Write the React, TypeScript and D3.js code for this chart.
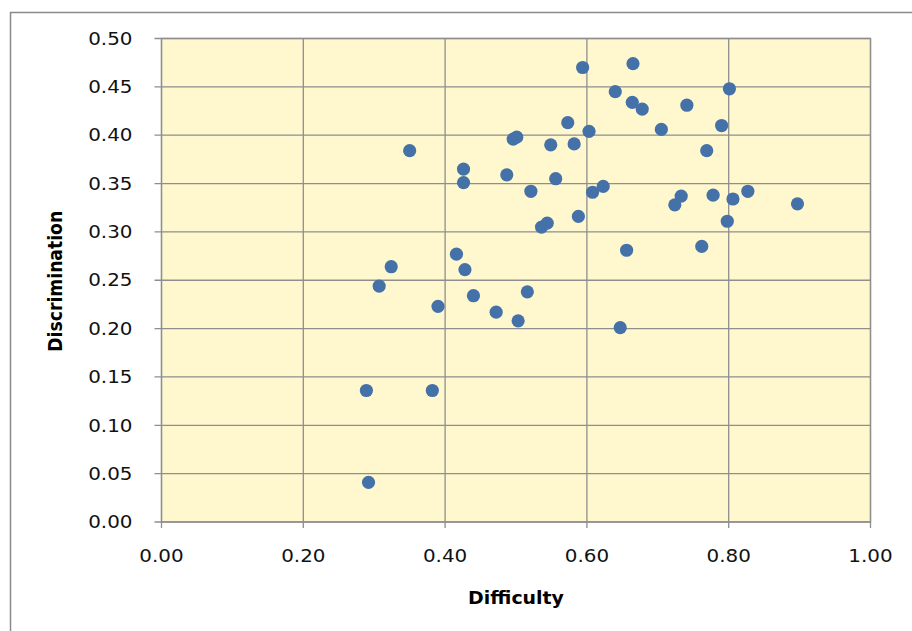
import React from "react";
import * as d3 from "d3";

const difficulty: number[] = [
  0.594, 0.665, 0.640, 0.801, 0.664, 0.678, 0.741, 0.573, 0.603, 0.705, 0.790,
  0.496, 0.501, 0.549, 0.582, 0.769, 0.426, 0.426, 0.487, 0.556, 0.521, 0.608,
  0.623, 0.724, 0.733, 0.778, 0.806, 0.827, 0.897, 0.798, 0.588, 0.536, 0.544,
  0.350, 0.324, 0.307, 0.416, 0.428, 0.390, 0.440, 0.472, 0.503, 0.516, 0.656,
  0.647, 0.289, 0.382, 0.292, 0.762,
];
const discrimination: number[] = [
  0.470, 0.474, 0.445, 0.448, 0.434, 0.427, 0.431, 0.413, 0.404, 0.406, 0.410,
  0.396, 0.398, 0.390, 0.391, 0.384, 0.365, 0.351, 0.359, 0.355, 0.342, 0.341,
  0.347, 0.328, 0.337, 0.338, 0.334, 0.342, 0.329, 0.311, 0.316, 0.305, 0.309,
  0.384, 0.264, 0.244, 0.277, 0.261, 0.223, 0.234, 0.217, 0.208, 0.238, 0.281,
  0.201, 0.136, 0.136, 0.041, 0.285,
];
const xTicks: number[] = [0, 0.2, 0.4, 0.6, 0.8, 1.0];
const yTicks: number[] = [0, 0.05, 0.1, 0.15, 0.2, 0.25, 0.3, 0.35, 0.4, 0.45, 0.5];
const xTitle = "Difficulty";
const yTitle = "Discrimination";

export default function App() {
  const W = 912, H = 631;
  const left = 161.5, right = 870.5, top = 38.5, bottom = 522;
  const x = d3.scaleLinear().domain([0, 1]).range([left, right]);
  const y = d3.scaleLinear().domain([0, 0.5]).range([bottom, top]);
  const fmt = d3.format(".2f");
  const grid = "#8e8e8e";
  const font = "'DejaVu Sans', Verdana, sans-serif";
  const pts = difficulty.map((d, i) => [d, discrimination[i]]);
  return (
    <svg width={W} height={H} style={{ position: "absolute", left: 0, top: 0, background: "#fff" }}>
      <rect x={10.5} y={12.5} width={1000} height={1000} fill="#fff" stroke="#8a8a8a" strokeWidth={1.5} />
      <rect x={left} y={top} width={right - left} height={bottom - top} fill="#FFF8CF" />
      {yTicks.map((t) => (
        <g key={"y" + t}>
          <line x1={left - 7} x2={right} y1={y(t)} y2={y(t)} stroke={grid} strokeWidth={1.3} />
          <text
            transform={`translate(132.5,${y(t) + 6.2}) scale(1.17,1)`}
            textAnchor="end"
            fontFamily={font}
            fontSize={17}
            fill="#111"
          >
            {fmt(t)}
          </text>
        </g>
      ))}
      {xTicks.map((t) => (
        <g key={"x" + t}>
          <line x1={x(t)} x2={x(t)} y1={top} y2={bottom + 6} stroke={grid} strokeWidth={1.3} />
          <text
            transform={`translate(${x(t)},${562}) scale(1.17,1)`}
            textAnchor="middle"
            fontFamily={font}
            fontSize={17}
            fill="#111"
          >
            {fmt(t)}
          </text>
        </g>
      ))}
      <rect x={left} y={top} width={right - left} height={bottom - top} fill="none" stroke={grid} strokeWidth={1.3} />
      {pts.map(([a, b], i) => (
        <circle key={i} cx={x(a)} cy={y(b)} r={6.6} fill="#4471A8" />
      ))}
      <text
        transform={`translate(${(left + right) / 2},603.5) scale(1.1,1)`}
        textAnchor="middle"
        fontFamily={font}
        fontWeight="bold"
        fontSize={17.2}
        fill="#000"
      >
        {xTitle}
      </text>
      <text
        transform={`translate(61.5,${(top + bottom) / 2 + 1}) scale(1.1,1) rotate(-90)`}
        textAnchor="middle"
        fontFamily={font}
        fontWeight="bold"
        fontSize={17.2}
        fill="#000"
      >
        {yTitle}
      </text>
    </svg>
  );
}
